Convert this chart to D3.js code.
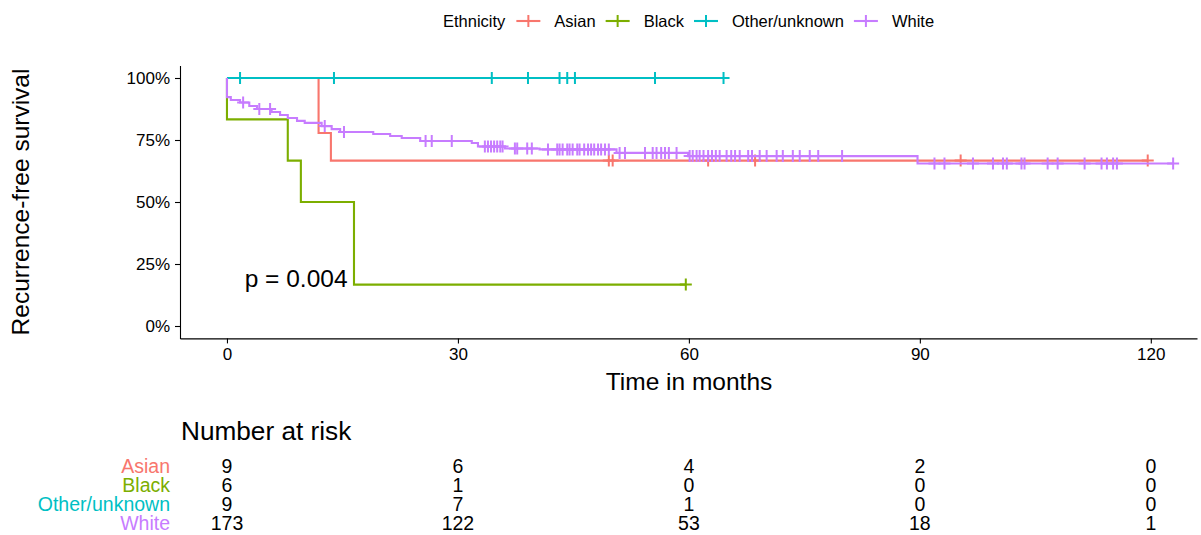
<!DOCTYPE html>
<html>
<head>
<meta charset="utf-8">
<script src="https://cdn.jsdelivr.net/npm/d3@7"></script>
<style>
  body { margin: 0; background: #fff; }
  svg { display: block; font-family: "Liberation Sans", Arial, sans-serif; }
</style>
</head>
<body>
<svg id="chart" width="1201" height="535"></svg>
<script>
// Kaplan–Meier recurrence-free survival by ethnicity, with number-at-risk table

const groups = ["Asian", "Black", "Other/unknown", "White"];
const groupColors = ["#F8766D", "#7CAE00", "#00BFC4", "#C77CFF"];

// Step curves: time (months) and survival after each step
const asianTimes = [0, 11.9, 13.5];
const asianSurv  = [1, 0.778, 0.667];
const asianEnd = 119.6;
const asianCensor = [49.6, 50.1, 62.5, 68.6, 95.3, 119.6];

const blackTimes = [0, 0, 7.9, 9.6, 16.5];
const blackSurv  = [1, 0.833, 0.667, 0.5, 0.167];
const blackEnd = 59.6;
const blackCensor = [59.6];

const otherTimes = [0];
const otherSurv  = [1];
const otherEnd = 64.5;
const otherCensor = [1.7, 13.9, 34.4, 39.1, 43.2, 44.2, 45.2, 55.6, 64.5];

const whiteTimes = [0, 0, 0.5, 1.7, 2.9, 3.9, 5.8, 6.9, 7.9, 9.1, 10.1, 12.3, 13.6, 14.7,
                    19.0, 21.2, 22.7, 25.1, 31.8, 32.6, 36.1, 40.6, 50.6, 59.9, 89.7];
const whiteSurv  = [1, 0.923, 0.911, 0.901, 0.887, 0.875, 0.863, 0.851, 0.839, 0.827, 0.819,
                    0.806, 0.794, 0.782, 0.774, 0.766, 0.758, 0.746, 0.738, 0.724, 0.716,
                    0.712, 0.698, 0.685, 0.655];
const whiteEnd = 122.9;
const whiteCensor = [2.1, 4.2, 5.6, 12.7, 15.2, 25.8, 26.6, 29.2,
  33.5, 33.9, 34.3, 34.7, 35.1, 35.5, 35.8, 37.4, 37.7, 39.0, 39.6, 41.7, 42.9, 43.2, 43.6,
  44.2, 44.5, 44.9, 45.5, 45.8, 46.4, 46.9, 47.3, 47.7, 48.2, 48.6, 49.1, 49.6,
  51.0, 51.7, 54.3, 55.3, 55.8, 56.4, 56.9, 57.4, 58.4,
  60.1, 60.5, 61.0, 61.4, 61.9, 62.5, 63.0, 63.5, 64.0, 64.9, 65.5, 66.0, 66.6,
  67.7, 68.2, 69.2, 70.1, 71.4, 72.2, 73.5, 74.4, 75.7, 76.8, 79.9,
  91.9, 93.2, 96.9, 99.5, 100.8, 101.3, 103.2, 103.6, 106.6, 107.9, 111.4,
  113.6, 114.3, 115.1, 115.6, 122.9];

// Number at risk
const riskTimes = [0, 30, 60, 90, 120];
const asianRisk = [9, 6, 4, 2, 0];
const blackRisk = [6, 1, 0, 0, 0];
const otherRisk = [9, 7, 1, 0, 0];
const whiteRisk = [173, 122, 53, 18, 1];

const xTicks = [0, 30, 60, 90, 120];
const yTicks = [0, 0.25, 0.5, 0.75, 1];
const pLabel = "p = 0.004";

const series = [
  { times: asianTimes, surv: asianSurv, end: asianEnd, censor: asianCensor, risk: asianRisk },
  { times: blackTimes, surv: blackSurv, end: blackEnd, censor: blackCensor, risk: blackRisk },
  { times: otherTimes, surv: otherSurv, end: otherEnd, censor: otherCensor, risk: otherRisk },
  { times: whiteTimes, surv: whiteSurv, end: whiteEnd, censor: whiteCensor, risk: whiteRisk }
].map((s, i) => ({ ...s, name: groups[i], color: groupColors[i] }));

const svg = d3.select("#chart");
const x = d3.scaleLinear().domain([-6.1, 126]).range([180, 1197]);
const y = d3.scaleLinear().domain([-0.05, 1.05]).range([338.4, 65.6]);

// Axes
const xAxis = svg.append("g").attr("transform", `translate(0,${y(-0.05)})`)
  .call(d3.axisBottom(x).tickValues(xTicks).tickSize(5).tickSizeOuter(0).tickPadding(5));
const yAxis = svg.append("g").attr("transform", `translate(${x(-6.1)},0)`)
  .call(d3.axisLeft(y).tickValues(yTicks).tickFormat(d3.format(".0%")).tickSize(5).tickSizeOuter(0).tickPadding(5));
[xAxis, yAxis].forEach(ax => {
  ax.select(".domain").attr("stroke", "#000").attr("stroke-width", 1.1);
  ax.selectAll(".tick line").attr("stroke", "#000").attr("stroke-width", 1.1);
  ax.selectAll(".tick text").attr("fill", "#000").attr("font-size", 17)
    .attr("font-family", "Liberation Sans, Arial, sans-serif");
});

svg.append("text").attr("x", 689).attr("y", 390).attr("text-anchor", "middle")
  .attr("font-size", 24.5).attr("fill", "#000").text("Time in months");
svg.append("text").attr("transform", `translate(29,${y(0.5)}) rotate(-90)`)
  .attr("text-anchor", "middle").attr("font-size", 24.5).attr("fill", "#000")
  .text("Recurrence-free survival");

// Survival curves
const line = d3.line().x(d => x(d[0])).y(d => y(d[1])).curve(d3.curveStepAfter);
const survAt = (s, t) => {
  const i = d3.bisectRight(s.times, t) - 1;
  return s.surv[Math.max(0, i)];
};

series.forEach(s => {
  const pts = s.times.map((t, i) => [t, s.surv[i]]);
  pts.push([s.end, s.surv[s.surv.length - 1]]);
  const g = svg.append("g");
  g.append("path").attr("d", line(pts)).attr("fill", "none")
    .attr("stroke", s.color).attr("stroke-width", 2.1);
  g.selectAll("path.cens").data(s.censor).join("path").attr("class", "cens")
    .attr("transform", t => `translate(${x(t)},${y(survAt(s, t))})`)
    .attr("d", "M-6,0H6M0,-6V6")
    .attr("stroke", s.color).attr("stroke-width", 2).attr("fill", "none");
});

svg.append("text").attr("x", x(2.3)).attr("y", 287).attr("font-size", 24.5)
  .attr("fill", "#000").text(pLabel);

// Legend
const legend = svg.append("g").attr("transform", "translate(443,21)");
let lx = 0;
const title = legend.append("text").attr("x", lx).attr("dy", "0.35em")
  .attr("font-size", 16.5).attr("fill", "#000").text("Ethnicity");
lx += title.node().getComputedTextLength() + 11;
series.forEach(s => {
  legend.append("line").attr("x1", lx).attr("x2", lx + 24).attr("stroke", s.color).attr("stroke-width", 2.1);
  legend.append("path").attr("d", `M${lx + 12 - 6},0H${lx + 12 + 6}M${lx + 12},-6V6`)
    .attr("stroke", s.color).attr("stroke-width", 2);
  lx += 24 + 14;
  const t = legend.append("text").attr("x", lx).attr("dy", "0.35em")
    .attr("font-size", 16.5).attr("fill", "#000").text(s.name);
  lx += t.node().getComputedTextLength() + 10;
});

// Number at risk table
svg.append("text").attr("x", 181).attr("y", 440).attr("font-size", 26.2)
  .attr("fill", "#000").text("Number at risk");
const rowY = [466, 485, 504, 523];
series.forEach((s, i) => {
  svg.append("text").attr("x", 170).attr("y", rowY[i]).attr("dy", "0.35em")
    .attr("text-anchor", "end").attr("font-size", 19.5).attr("fill", s.color).text(s.name);
  svg.append("g").selectAll("text").data(s.risk).join("text")
    .attr("x", (d, j) => x(riskTimes[j])).attr("y", rowY[i]).attr("dy", "0.35em")
    .attr("text-anchor", "middle").attr("font-size", 19.5).attr("fill", "#000").text(d => d);
});
</script>
</body>
</html>
